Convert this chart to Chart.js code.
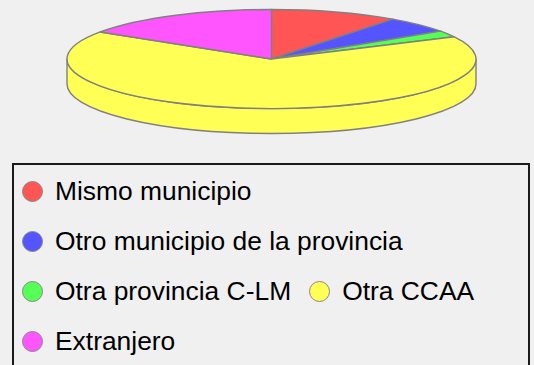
<!DOCTYPE html>
<html>
<head>
<meta charset="utf-8">
<script src="https://cdn.jsdelivr.net/npm/chart.js@4.4.1/dist/chart.umd.min.js"></script>
<style>
  body { margin: 0; background: #f0f0f0; }
  #wrap { position: absolute; left: 0; top: 0; width: 534px; height: 150px; }
  #legend {
    position: absolute; left: 12px; top: 163px; width: 518px; height: 230px;
    box-sizing: border-box; border: 2px solid #1a1a1a;
    padding: 1px 0 0 8px;
    display: flex; flex-wrap: wrap; align-content: flex-start;
    font-family: "Liberation Sans", Arial, sans-serif; font-size: 26.4px; color: #000;
  }
  .item { display: flex; align-items: center; height: 50px; margin-right: 18px; line-height: 50px; white-space: nowrap; }
  .dot { width: 21px; height: 21px; box-sizing: border-box; border-radius: 50%; border: 1px solid #888; margin-right: 12px; }
</style>
</head>
<body>
<div id="wrap"><canvas id="pie"></canvas></div>
<div id="legend"></div>
<script>
const labels = ['Mismo municipio', 'Otro municipio de la provincia', 'Otra provincia C-LM', 'Otra CCAA', 'Extranjero'];
const values = [10.1, 5.4, 2.1, 66.6, 15.8];
const colors = ['#ff5555', '#5555ff', '#55ff55', '#ffff55', '#ff55ff'];

// flat pie drawn as a tilted disc
const pie3d = {
    id: 'pie3d',
    beforeDatasetsDraw(chart, args, opts) {
        const ctx = chart.ctx;
        const area = chart.chartArea;
        const arcs = chart.getDatasetMeta(0).data;
        const depth = opts.depth;
        const cx = (area.left + area.right) / 2;
        const rx = (area.right - area.left) / 2;
        const ry = (area.bottom - area.top - depth) / 2;
        const cy = area.top + ry;

        ctx.save();
        ctx.lineWidth = 1.4;
        ctx.lineJoin = 'round';

        // side walls (front half only)
        arcs.forEach((arc) => {
            const a = Math.max(arc.startAngle, 0);
            const b = Math.min(arc.endAngle, Math.PI);
            if (a >= b) return;
            ctx.beginPath();
            ctx.ellipse(cx, cy + depth, rx, ry, 0, a, b);
            ctx.lineTo(cx + rx * Math.cos(b), cy + ry * Math.sin(b));
            ctx.ellipse(cx, cy, rx, ry, 0, b, a, true);
            ctx.closePath();
            ctx.fillStyle = arc.options.backgroundColor;
            ctx.strokeStyle = arc.options.borderColor;
            ctx.fill();
            ctx.stroke();
        });

        // top face
        arcs.forEach((arc) => {
            ctx.beginPath();
            ctx.moveTo(cx, cy);
            ctx.ellipse(cx, cy, rx, ry, 0, arc.startAngle, arc.endAngle);
            ctx.closePath();
            ctx.fillStyle = arc.options.backgroundColor;
            ctx.strokeStyle = arc.options.borderColor;
            ctx.fill();
            ctx.stroke();
        });
        ctx.restore();
        return false;
    }
};

const ctx = document.getElementById('pie').getContext('2d');
const myChart = new Chart(ctx, {
    type: 'pie',
    data: {
        labels: labels,
        datasets: [{
            data: values,
            backgroundColor: colors,
            borderColor: '#808080',
            borderWidth: 1
        }]
    },
    options: {
        responsive: true,
        maintainAspectRatio: false,
        animation: false,
        layout: {
            padding: { left: 67, right: 58, top: 9.5, bottom: 16.5 }
        },
        plugins: {
            legend: { display: false },
            tooltip: { enabled: false },
            pie3d: { depth: 25 }
        }
    },
    plugins: [pie3d]
});

// html legend built from the chart's own legend items
const legendBox = document.getElementById('legend');
myChart.options.plugins.legend.labels.generateLabels(myChart).forEach((item) => {
    const div = document.createElement('div');
    div.className = 'item';
    const dot = document.createElement('span');
    dot.className = 'dot';
    dot.style.background = item.fillStyle;
    div.appendChild(dot);
    div.appendChild(document.createTextNode(item.text));
    legendBox.appendChild(div);
});
</script>
</body>
</html>
